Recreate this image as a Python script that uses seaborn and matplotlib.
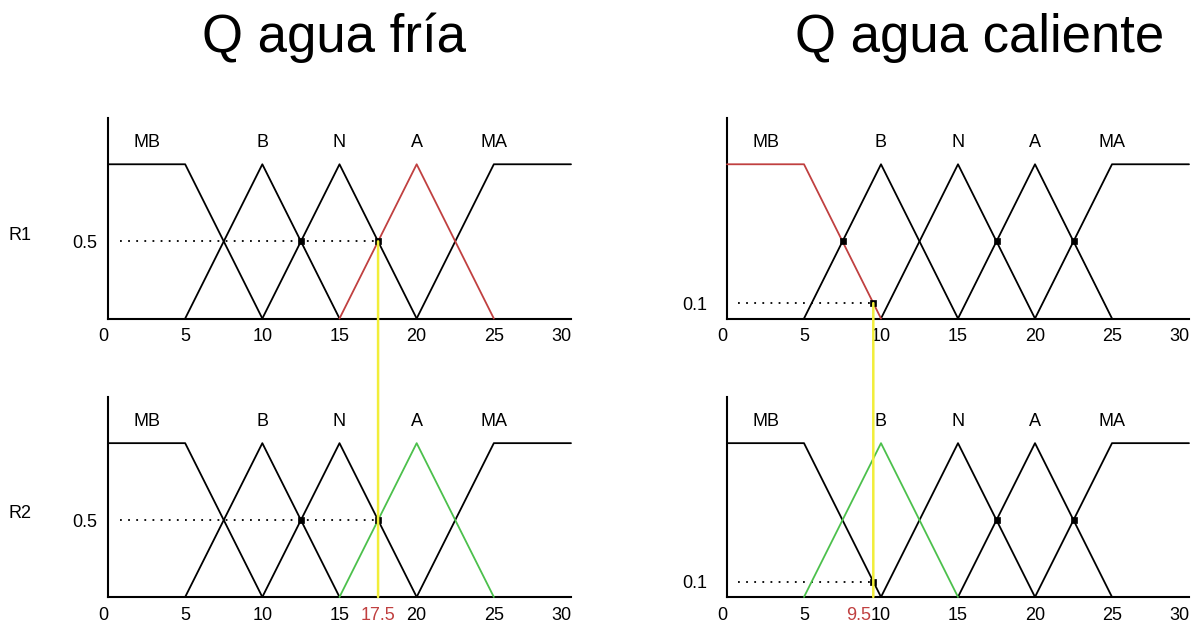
import numpy as np
import pandas as pd
import matplotlib
matplotlib.use("Agg")
import matplotlib.pyplot as plt
import matplotlib.transforms as mtrans
from matplotlib.patches import ConnectionPatch
import seaborn as sns

# ---------------- data ----------------
titles = ["Q agua fría", "Q agua caliente"]
row_labels = ["R1", "R2"]
set_names = ["MB", "B", "N", "A", "MA"]
set_x = [[0, 5, 10], [5, 10, 15], [10, 15, 20], [15, 20, 25], [20, 25, 30]]
set_mu = [[1, 1, 0], [0, 1, 0], [0, 1, 0], [0, 1, 0], [0, 1, 1]]
label_x = [2.5, 10, 15, 20, 25]
label_y = 1.14
xticks = [0, 5, 10, 15, 20, 25, 30]

input_x = [17.5, 9.5]          # crisp input per column
degree = [0.5, 0.1]            # membership degree per column
dotted_start = [0.8, 0.7]
# highlighted set per (column,row)
highlight_set = [["A", "A"], ["MB", "B"]]
highlight_col = [["red", "green"], ["red", "green"]]
# intersection markers per (column,row)
marker_x = [[[12.5, 17.5], [12.5, 17.5]], [[7.5, 17.5, 22.5, 9.5], [17.5, 22.5, 9.5]]]
marker_y = [[[0.5, 0.5], [0.5, 0.5]], [[0.5, 0.5, 0.5, 0.1], [0.5, 0.5, 0.1]]]

colors = {"red": "#c04040", "green": "#4cc04c", "yellow": "#f2ee3a"}

rows = []
for name, xs, ms in zip(set_names, set_x, set_mu):
    for x, m in zip(xs, ms):
        rows.append({"set": name, "x": x, "mu": m})
df = pd.DataFrame(rows)

# ---------------- figure ----------------
sns.set_theme(style="white")
plt.rcParams["font.family"] = ["Liberation Sans", "DejaVu Sans"]
plt.rcParams["text.color"] = "black"
plt.rcParams["xtick.color"] = "black"
plt.rcParams["ytick.color"] = "black"
plt.rcParams["axes.labelcolor"] = "black"

W, H = 1197, 627
fig = plt.figure(figsize=(W / 100, H / 100), dpi=100)

col_left = [108, 727]
col_right = [571, 1189]
row_bottom = [318.5, 597]
row_top = [118, 397]

axes = [[None, None], [None, None]]
for c in range(2):
    for r in range(2):
        ax = fig.add_axes([col_left[c] / W, (H - row_bottom[r]) / H,
                           (col_right[c] - col_left[c]) / W,
                           (row_bottom[r] - row_top[r]) / H])
        ax.set_facecolor("none")
        axes[c][r] = ax
        hs = highlight_set[c][r]
        for name in set_names:
            sub = df[df["set"] == name]
            col = colors[highlight_col[c][r]] if name == hs else "black"
            sns.lineplot(data=sub, x="x", y="mu", ax=ax, sort=False,
                         estimator=None, color=col, lw=1.3, clip_on=False,
                         zorder=3 if name == hs else 2)
        # dotted guide
        ax.plot([dotted_start[c], input_x[c]], [degree[c], degree[c]],
                color="black", lw=1.3, ls=(0, (1, 3.5)), zorder=2)
        sns.scatterplot(x=marker_x[c][r], y=marker_y[c][r], ax=ax, marker="s",
                        s=14, color="black", edgecolor="black", linewidth=0.5,
                        zorder=4)
        for name, lx in zip(set_names, label_x):
            ax.text(lx, label_y, name, ha="center", va="center", fontsize=13)
        ax.set_xlim(0, 30)
        ax.set_ylim(0, 1.3)
        ax.set_xlabel("")
        ax.set_ylabel("")
        for s in ["top", "right"]:
            ax.spines[s].set_visible(False)
        for s in ["left", "bottom"]:
            ax.spines[s].set_color("black")
            ax.spines[s].set_linewidth(1.5)
        ax.set_yticks([degree[c]])
        ax.set_yticklabels([f"{degree[c]:g}"])
        ax.tick_params(axis="y", length=0, pad=8 if c == 0 else 14, labelsize=13)
        ticks = list(xticks)
        labels = [str(t) for t in xticks]
        if r == 1:
            ticks.append(input_x[c])
            labels.append(f"{input_x[c]:g}")
        ax.set_xticks(ticks)
        ax.set_xticklabels(labels)
        ax.tick_params(axis="x", length=0, pad=7, labelsize=13)
        for t, lab in zip(ticks, ax.get_xticklabels()):
            if t == xticks[0] or t == xticks[-1]:
                lab.set_horizontalalignment("right")
            if r == 1 and t == input_x[c]:
                lab.set_color(colors["red"])
                if c == 1:
                    lab.set_horizontalalignment("right")
                    lab.set_transform(lab.get_transform() +
                                      mtrans.ScaledTranslation(-0.02, 0, fig.dpi_scale_trans))
        if c == 0:
            ax.text(-88 / (col_right[0] - col_left[0]), degree[0] + 0.04,
                    row_labels[r], transform=mtrans.blended_transform_factory(ax.transAxes, ax.transData),
                    ha="center", va="center", fontsize=13)

    # yellow projection line from top panel to bottom panel
    con = ConnectionPatch(xyA=(input_x[c], degree[c]), coordsA="data", axesA=axes[c][0],
                          xyB=(input_x[c], 0), coordsB="data", axesB=axes[c][1],
                          color=colors["yellow"], lw=1.8, zorder=1)
    fig.add_artist(con)

title_x = [334.5 / W, 980 / W]
for c in range(2):
    fig.text(title_x[c], (H - 52) / H, titles[c], ha="center", va="baseline",
             fontsize=38, color="black")

fig.savefig("out.png", dpi=100, facecolor="white")
